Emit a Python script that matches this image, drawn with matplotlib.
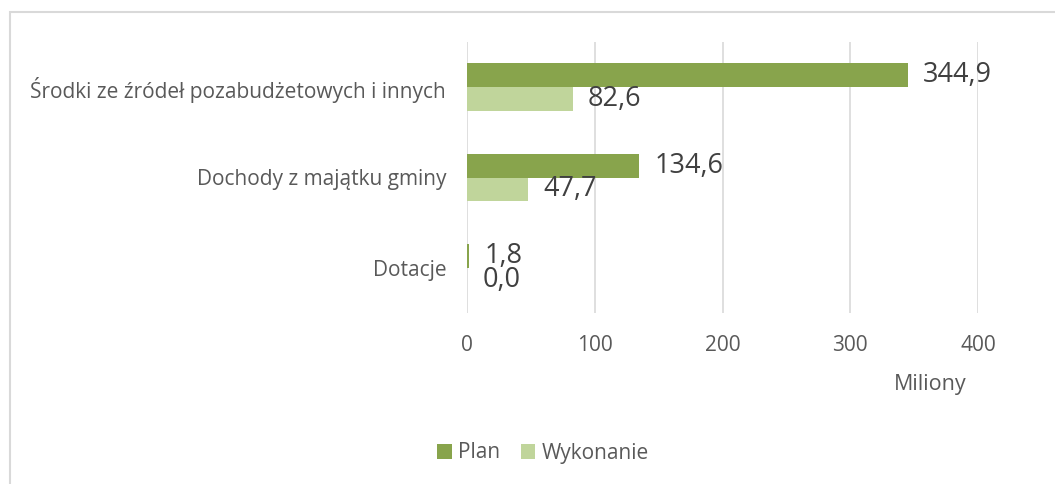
import matplotlib.pyplot as plt
import numpy as np
from matplotlib.patches import Rectangle

categories = ["Dotacje", "Dochody z majątku gminy", "Środki ze źródeł pozabudżetowych i innych"]
plan = [1.8, 134.6, 344.9]
wykonanie = [0.0, 47.7, 82.6]
series_names = ["Plan", "Wykonanie"]

c_plan = "#88a44c"
c_wyk = "#c0d59b"
txt = "#595959"

plt.rcParams["font.family"] = ["Open Sans", "DejaVu Sans"]

fig = plt.figure(figsize=(10.55, 4.84), dpi=100)
ax = fig.add_axes([467 / 1055, 1 - 313 / 484, 511 / 1055, 271 / 484])

y = np.arange(len(categories))
h = 0.265
b1 = ax.barh(y + h / 2, plan, height=h, color=c_plan, label=series_names[0])
b2 = ax.barh(y - h / 2, wykonanie, height=h, color=c_wyk, label=series_names[1])

def fmt(v):
    return f"{v:.1f}".replace(".", ",")

for bars, vals in ((b1, plan), (b2, wykonanie)):
    for rect, v in zip(bars, vals):
        ax.annotate(fmt(v), (v, rect.get_y() + rect.get_height() / 2),
                    xytext=(11, 0), textcoords="offset points",
                    ha="left", va="center", fontsize=19.5, color="#404040")

ax.set_xlim(0, 400)
ax.set_ylim(-0.5, 2.5)
ax.set_xticks([0, 100, 200, 300, 400])
ax.set_yticks(y)
ax.set_yticklabels(categories)
ax.grid(axis="x", color="#d9d9d9", linewidth=1.2)
ax.set_axisbelow(True)
for s in ax.spines.values():
    s.set_visible(False)
ax.tick_params(axis="both", length=0, colors=txt, labelsize=15)
ax.tick_params(axis="x", pad=16)
ax.tick_params(axis="y", pad=15)
ax.set_xlabel("Miliony", color=txt, fontsize=15.5)
ax.xaxis.set_label_coords((930 - 467) / 511, -(374 - 313) / 271)

fig.legend(handles=[b1, b2], labels=series_names, loc="center",
           bbox_to_anchor=(543 / 1055, 1 - 453 / 484), ncol=2, frameon=False,
           fontsize=15, labelcolor=txt, handlelength=0.7, handleheight=0.7,
           columnspacing=1.0, handletextpad=0.3)

fig.patches.append(Rectangle((10 / 1055, -0.1), 1.2, 1 - 12 / 484 + 0.1,
                             transform=fig.transFigure, fill=False,
                             edgecolor="#d9d9d9", linewidth=1.5))

fig.savefig("out.png", dpi=100)
